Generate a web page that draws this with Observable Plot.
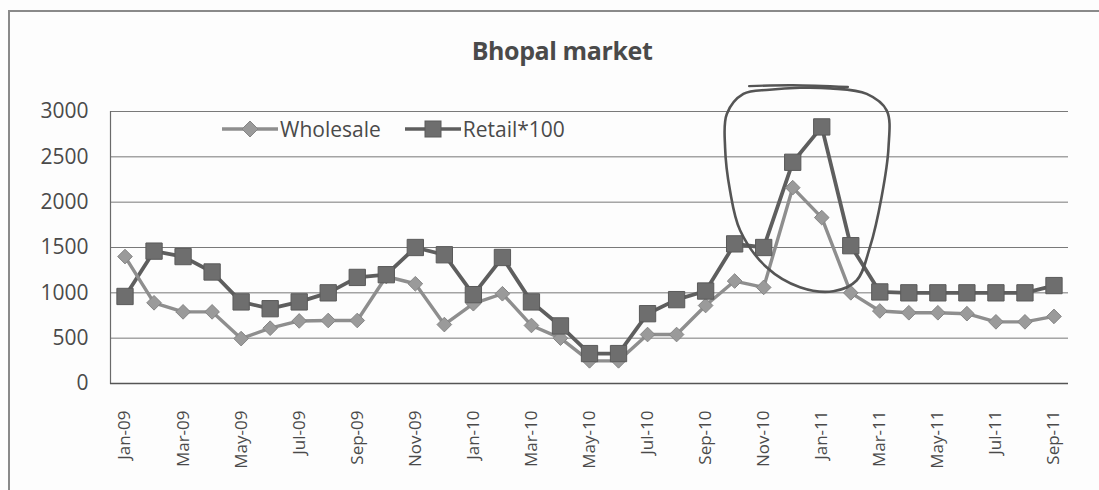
<!DOCTYPE html>
<html>
<head>
<meta charset="utf-8">
<script src="https://cdn.jsdelivr.net/npm/d3@7"></script>
<script src="https://cdn.jsdelivr.net/npm/@observablehq/plot@0.6"></script>
<style>
  html, body { margin: 0; padding: 0; background: #fdfdfd; }
  #page { position: relative; width: 1099px; height: 490px; overflow: hidden; font-family: "Open Sans", sans-serif; color: #454545; }
  #frame { position: absolute; left: 8px; top: 10px; width: 1200px; height: 600px; border-left: 2px solid #8a8a8a; border-top: 2px solid #8a8a8a; }
  #title { position: absolute; left: 0; width: 1124px; top: 33px; text-align: center; font-weight: 700; font-size: 25px; color: #4a4a4a; letter-spacing: -0.4px; }
  #chart { position: absolute; left: 0; top: 80px; }
  #legend { position: absolute; left: 222px; top: 115px; display: flex; align-items: center; font-size: 21px; color: #4a4a4a; }
  #legend .item { display: flex; align-items: center; margin-right: 24px; }
  #legend svg { margin-right: 2px; }
</style>
</head>
<body>
<div id="page">
  <div id="frame"></div>
  <div id="title">Bhopal market</div>
  <div id="chart"></div>
  <div id="legend"></div>
</div>
<script>
// Months (category axis), one per data point
const months = ["Jan-09","Feb-09","Mar-09","Apr-09","May-09","Jun-09","Jul-09","Aug-09","Sep-09","Oct-09","Nov-09","Dec-09",
                "Jan-10","Feb-10","Mar-10","Apr-10","May-10","Jun-10","Jul-10","Aug-10","Sep-10","Oct-10","Nov-10","Dec-10",
                "Jan-11","Feb-11","Mar-11","Apr-11","May-11","Jun-11","Jul-11","Aug-11","Sep-11"];
// Series values
const wholesale = [1400, 890, 790, 790, 495, 610, 690, 695, 695, 1180, 1100, 650,
                   880, 990, 640, 500, 250, 250, 540, 540, 860, 1130, 1060, 2160,
                   1830, 1000, 800, 780, 780, 770, 680, 680, 740];
const retail    = [960, 1460, 1400, 1230, 900, 825, 900, 1000, 1170, 1200, 1500, 1420,
                   980, 1390, 900, 635, 330, 330, 770, 925, 1020, 1540, 1500, 2440,
                   2830, 1520, 1010, 1000, 1000, 1000, 1000, 1000, 1080];
// Tick labels shown on the category axis (every second month)
const tickLabels = months.filter((m, i) => i % 2 === 0);
const yTicks = [0, 500, 1000, 1500, 2000, 2500, 3000];
// Hand-drawn loop around the late-2010 spike (month index, value)
const annotationLoop = [
  [20.73, 2973], [20.67, 2605], [20.84, 2128], [21.19, 1687], [22.1, 1282], [23.25, 1062],
  [24.4, 1018], [25.2, 1136], [25.66, 1503], [26.06, 2054], [26.3, 2605], [26.24, 3010],
  [25.55, 3194], [24.3, 3255], [23.25, 3262], [22.2, 3240], [21.3, 3194]
];
const annotationStroke = [[21.5, 3280], [23.0, 3290], [24.9, 3270]];

const data = months.map((m, i) => ({ i, month: m, wholesale: wholesale[i], retail: retail[i] }));

const colW = "#8e8e8e", colWm = "#9a9a9a";
const colR = "#5e5e5e", colRm = "#6e6e6e";
const xTicks = tickLabels.map(t => months.indexOf(t));

const chart = Plot.plot({
  width: 1099,
  height: 410,
  marginLeft: 110,
  marginRight: 31,
  marginTop: 31,
  marginBottom: 107,
  style: { fontFamily: "Open Sans, sans-serif", background: "transparent", color: "#4a4a4a", overflow: "visible" },
  x: { type: "linear", domain: [-0.5, 32.5], label: null },
  y: { domain: [0, 3000], label: null },
  marks: [
    Plot.gridY(yTicks, { stroke: "#6a6a6a", strokeOpacity: 0.9, strokeWidth: 1 }),
    Plot.frame({ anchor: "left", stroke: "#6a6a6a", strokeWidth: 1.2 }),
    Plot.ruleY([0], { stroke: "#555", strokeWidth: 1.6 }),
    Plot.axisY({ ticks: yTicks, tickFormat: d => String(d), tickSize: 0, tickPadding: 22, fontSize: 21, fill: "#4a4a4a" }),
    Plot.axisX({ ticks: xTicks, tickFormat: i => months[i], tickRotate: -90, tickSize: 0, tickPadding: 27, fontSize: 17, fill: "#4a4a4a" }),
    Plot.line(data, { x: "i", y: "retail", stroke: colR, strokeWidth: 3.8 }),
    Plot.line(data, { x: "i", y: "wholesale", stroke: colW, strokeWidth: 3.4 }),
    Plot.dot(data, { x: "i", y: "wholesale", symbol: "diamond2", r: 6.6, fill: colWm, stroke: "#858585", strokeWidth: 1 }),
    Plot.dot(data, { x: "i", y: "retail", symbol: "square", r: 9.2, fill: colRm, stroke: "#5a5a5a", strokeWidth: 1 }),
    Plot.line(annotationLoop, { x: d => d[0], y: d => d[1], curve: "catmull-rom-closed", stroke: "#555", strokeWidth: 2.6, clip: false }),
    Plot.line(annotationStroke, { x: d => d[0], y: d => d[1], curve: "catmull-rom", stroke: "#555", strokeWidth: 2.4, clip: false })
  ]
});
document.getElementById("chart").appendChild(chart);

// Legend
const legend = document.getElementById("legend");
function legendItem(label, color, mcolor, shape) {
  const item = document.createElement("div");
  item.className = "item";
  const s = d3.create("svg").attr("width", 56).attr("height", 20);
  s.append("line").attr("x1", 0).attr("x2", 56).attr("y1", 10).attr("y2", 10).attr("stroke", color).attr("stroke-width", 3.4);
  if (shape === "diamond") {
    s.append("path").attr("d", "M28,2 L36,10 L28,18 L20,10 Z").attr("fill", mcolor).attr("stroke", "#858585");
  } else {
    s.append("rect").attr("x", 20).attr("y", 2).attr("width", 16).attr("height", 16).attr("fill", mcolor).attr("stroke", "#5a5a5a");
  }
  item.appendChild(s.node());
  const t = document.createElement("span");
  t.textContent = label;
  item.appendChild(t);
  legend.appendChild(item);
}
legendItem("Wholesale", colW, colWm, "diamond");
legendItem("Retail*100", colR, colRm, "square");
</script>
</body>
</html>
